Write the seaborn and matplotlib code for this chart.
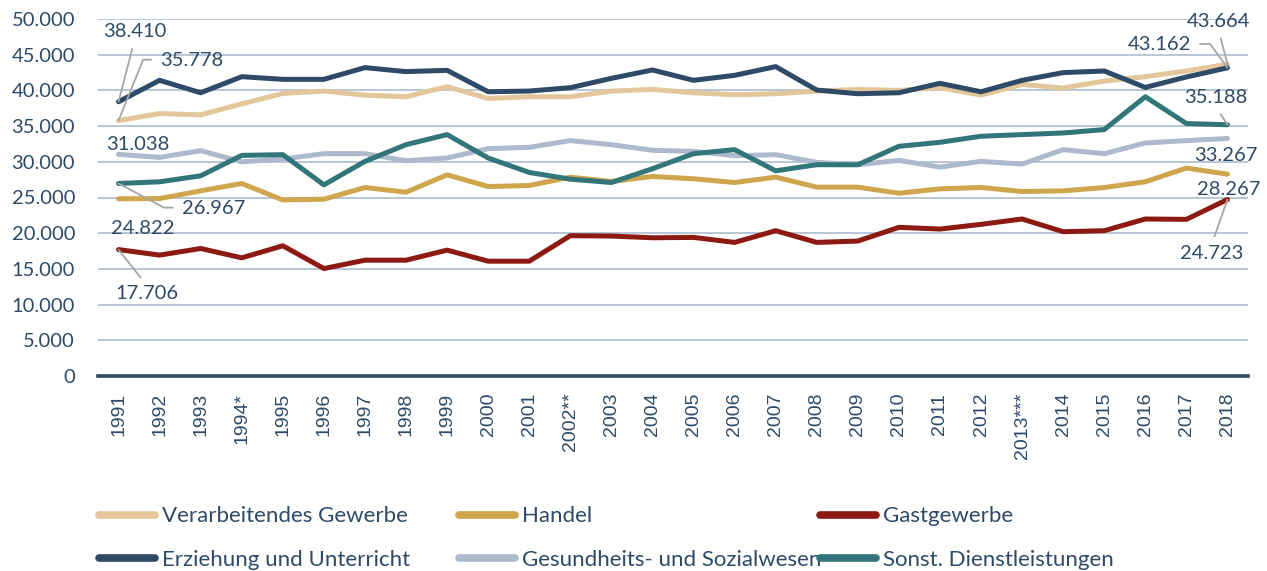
import matplotlib
matplotlib.use("Agg")
import matplotlib.pyplot as plt
from matplotlib.lines import Line2D
import seaborn as sns
import pandas as pd

years = ["1991", "1992", "1993", "1994*", "1995", "1996", "1997", "1998", "1999", "2000",
         "2001", "2002**", "2003", "2004", "2005", "2006", "2007", "2008", "2009", "2010",
         "2011", "2012", "2013***", "2014", "2015", "2016", "2017", "2018"]

verarbeitendes = [35778, 36760, 36580, 38120, 39580, 39900, 39340, 39110, 40520, 38870,
                  39110, 39110, 39900, 40140, 39670, 39390, 39530, 39900, 40140, 40000,
                  40380, 39340, 40840, 40330, 41310, 41920, 42720, 43664]
handel = [24822, 24850, 25930, 26960, 24660, 24760, 26400, 25740, 28180, 26540,
          26680, 27850, 27240, 27950, 27620, 27100, 27850, 26450, 26450, 25600,
          26210, 26400, 25840, 25930, 26400, 27200, 29120, 28267]
gastgewerbe = [17706, 16930, 17860, 16550, 18240, 15050, 16220, 16220, 17630, 16080,
               16080, 19650, 19600, 19360, 19410, 18710, 20350, 18710, 18900, 20820,
               20580, 21240, 21990, 20210, 20350, 21990, 21940, 24723]
erziehung = [38410, 41410, 39670, 41920, 41550, 41550, 43190, 42630, 42810, 39810,
             39910, 40380, 41690, 42860, 41410, 42110, 43330, 40050, 39530, 39670,
             40990, 39810, 41410, 42490, 42720, 40420, 41880, 43162]
gesundheit = [31038, 30620, 31560, 30000, 30390, 31140, 31140, 30150, 30530, 31840,
              32030, 32970, 32400, 31610, 31460, 30850, 31000, 29920, 29590, 30200,
              29260, 30060, 29680, 31700, 31140, 32640, 32970, 33267]
sonstige = [26967, 27200, 28040, 30900, 31000, 26770, 30060, 32400, 33810, 30530,
            28510, 27570, 27100, 29030, 31140, 31700, 28740, 29590, 29590, 32170,
            32730, 33580, 33810, 34040, 34510, 39110, 35360, 35188]

names = ["Verarbeitendes Gewerbe", "Handel", "Gastgewerbe",
         "Erziehung und Unterricht", "Gesundheits- und Sozialwesen", "Sonst. Dienstleistungen"]
series = [verarbeitendes, handel, gastgewerbe, erziehung, gesundheit, sonstige]
colors = ["#E3C79B", "#CFA64D", "#8C1A12", "#2E4A67", "#ADBACB", "#32767A"]

rows = []
for n, vals in zip(names, series):
    for y, v in zip(years, vals):
        rows.append({"Jahr": y, "Wert": v, "Branche": n})
df = pd.DataFrame(rows)

sns.set_theme(style="white")
plt.rcParams["font.family"] = ["Lato", "DejaVu Sans"]
TXT = "#2E4A67"

fig = plt.figure(figsize=(12.67, 5.71), dpi=100)
ax = fig.add_axes([98 / 1267, 1 - 376 / 571, 1150 / 1267, 357 / 571])

sns.lineplot(data=df, x="Jahr", y="Wert", hue="Branche", hue_order=names,
             palette=dict(zip(names, colors)), linewidth=3.6, sort=False,
             legend=False, ax=ax, solid_joinstyle="round", solid_capstyle="round")

ax.set_xlim(-0.5, len(years) - 0.5)
ax.set_ylim(0, 50000)
yt = list(range(0, 50001, 5000))
ax.set_yticks(yt)
ax.set_yticklabels([f"{v:,}".replace(",", ".") for v in yt], fontsize=14.5, color=TXT)
ax.set_xticks(range(len(years)))
ax.set_xticklabels(years, rotation=90, fontsize=14, color=TXT, family="Liberation Sans")
ax.tick_params(axis="y", length=0, pad=16.5)
ax.tick_params(axis="x", length=0, pad=12)
ax.yaxis.grid(True, color="#B8C6D5", linewidth=1.4)
ax.set_axisbelow(True)
for s in ["top", "right", "left"]:
    ax.spines[s].set_visible(False)
ax.spines["bottom"].set_color("#2E4A67")
ax.spines["bottom"].set_linewidth(2.6)
ax.set_xlabel("")
ax.set_ylabel("")

GRAY = "#A6A6A6"
n = len(years) - 1
ann = [
    # (x index, value, offset px, relpos, connectionstyle or None)
    (0, erziehung[0], (16, 70), (0.5, 0), "arc3"),
    (0, verarbeitendes[0], (73, 60), (0, 0.55), "angle,angleA=0,angleB=68,rad=0"),
    (0, gesundheit[0], (19, 10), None, None),
    (0, sonstige[0], (95, -25), (0, 0.55), "angle,angleA=0,angleB=-28,rad=0"),
    (0, handel[0], (24, -30), None, None),
    (0, gastgewerbe[0], (28, -44), (0.5, 1), "arc3"),
    (n, verarbeitendes[n], (-9, 43), (0.5, 0), "arc3"),
    (n, erziehung[n], (-68, 23), (1, 0.55), "angle,angleA=0,angleB=126,rad=0"),
    (n, sonstige[n], (-12, 27), (0.5, 0), "arc3"),
    (n, gesundheit[n], (-2, -17), None, None),
    (n, handel[n], (1, -15), None, None),
    (n, gastgewerbe[n], (-16, -54), (0.5, 1), "arc3"),
]
for xi, v, off, rel, cs in ann:
    label = f"{v:,}".replace(",", ".")
    kw = {}
    if cs is not None:
        kw["arrowprops"] = dict(arrowstyle="-", color=GRAY, lw=1.3, relpos=rel,
                                connectionstyle=cs, shrinkA=4, shrinkB=0)
    ax.annotate(label, xy=(xi, v), xytext=off, textcoords="offset pixels",
                ha="center", va="center", fontsize=14.5, color=TXT, **kw)

# legend: three columns, two rows each
cols = [[0, 3], [1, 4], [2, 5]]
xs = [99, 459, 820]
for c, x0 in zip(cols, xs):
    handles = [Line2D([], [], color=colors[i], linewidth=5.5, solid_capstyle="round") for i in c]
    labels = [names[i] for i in c]
    lg = fig.legend(handles, labels, loc="center left",
                    bbox_to_anchor=(x0 / 1267, 1 - 538 / 571), frameon=False,
                    fontsize=16, handlelength=2.5, handletextpad=0.32,
                    labelspacing=1.05, borderpad=0, borderaxespad=0)
    for t in lg.get_texts():
        t.set_color(TXT)

fig.savefig("out.png", dpi=100)
